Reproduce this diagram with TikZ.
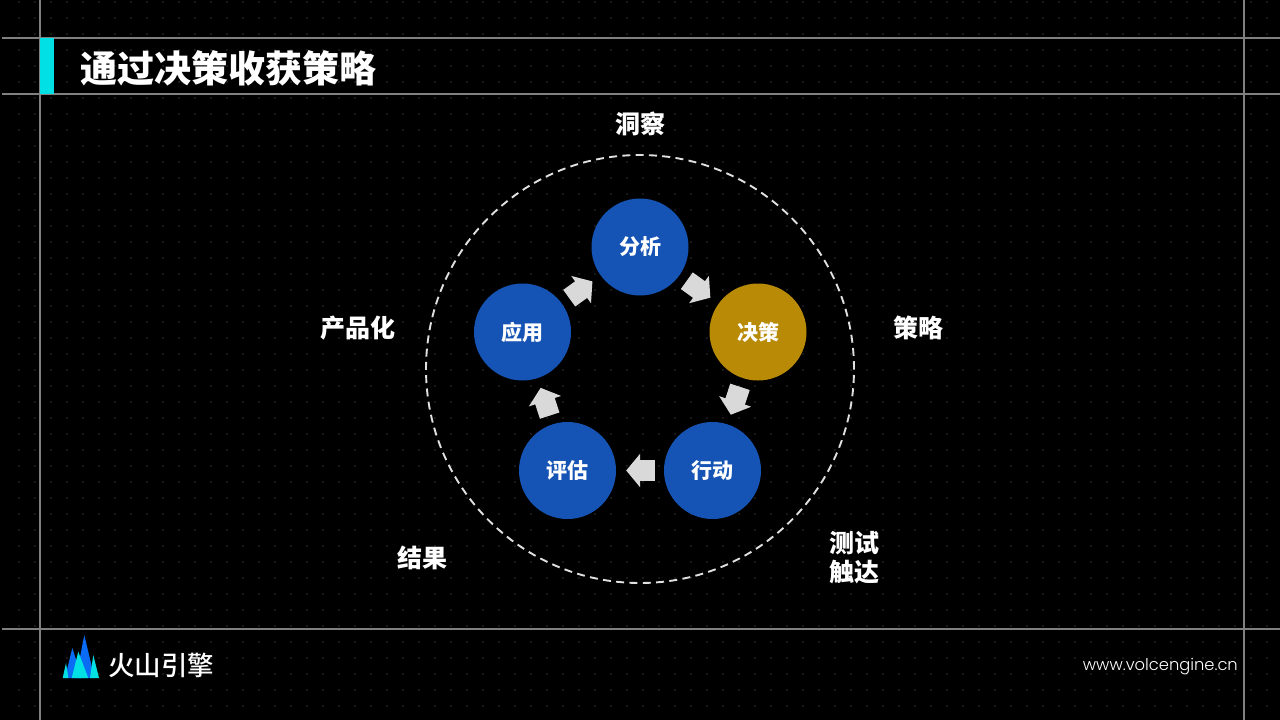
\documentclass[tikz,border=0pt]{standalone}
\usepackage{fontspec}
\setmainfont{Noto Sans CJK SC}
\newfontfamily\brandfont{Noto Sans CJK SC Medium}
\newfontfamily\urlfont{Poppins Light}
\usepackage{tikz}
\usetikzlibrary{arrows.meta}
\usepackage{xcolor}
\definecolor{stepblue}{HTML}{1554B4}
\definecolor{stepgold}{HTML}{B88A05}
\definecolor{accentcyan}{HTML}{00E0E5}
\definecolor{logoblue}{HTML}{0A6CF5}
\definecolor{griddot}{HTML}{333333}
\definecolor{gridline}{HTML}{808080}
\definecolor{flowgrey}{HTML}{D9D9D9}
\definecolor{ringgrey}{HTML}{E0E0E0}
\tikzset{
    stepnode/.style={circle, minimum size=97pt, inner sep=0pt, fill=stepblue, text=white, font=\fontsize{21}{24}\selectfont\bfseries},
    outerlabel/.style={text=white, align=center, inner sep=0pt, font=\fontsize{25}{29}\selectfont\bfseries},
    flowarrow/.style={draw=flowgrey, line width=20.5pt, -{Triangle[length=14pt,width=33pt,fill=flowgrey]}, shorten <=9pt, shorten >=10pt},
    frameline/.style={gridline, line width=1.2pt}
}

\begin{document}
\begin{tikzpicture}[x=1pt,y=-1pt]
    % Background
    \fill[black] (0,0) rectangle (1280,720);
    \useasboundingbox (0,0) rectangle (1280,720);
    \foreach \i in {0,...,78} {
        \foreach \j in {0,...,44} {
            \fill[griddot] ({19+16*\i},{2+16*\j}) circle[radius=0.8];
        }
    }

    % Frame lines
    \draw[frameline] (2,38) -- (1280,38);
    \draw[frameline] (2,94) -- (1280,94);
    \draw[frameline] (2,629) -- (1280,629);
    \draw[frameline] (40,0) -- (40,720);
    \draw[frameline] (1244,0) -- (1244,720);

    % Title
    \fill[accentcyan] (40,38) rectangle (54,94);
    \node[anchor=west, inner sep=0pt, text=white, font=\fontsize{37}{40}\selectfont\bfseries] (title) at (80,68) {通过决策收获策略};

    % Dashed ring
    \draw[ringgrey, line width=1.9pt, dash pattern=on 8pt off 5.31pt, dash phase=7.32pt] (640,369) circle[radius=214];

    % Steps
    \node[stepnode] (fenxi) at (640,247) {分析};
    \node[stepnode, fill=stepgold] (juece) at (758,332) {决策};
    \node[stepnode] (xingdong) at (712.5,470.5) {行动};
    \node[stepnode] (pinggu) at (567.5,470.5) {评估};
    \node[stepnode] (yingyong) at (522.5,332) {应用};

    \draw[flowarrow] (fenxi) -- (juece);
    \draw[flowarrow] (juece) -- (xingdong);
    \draw[flowarrow] (xingdong) -- (pinggu);
    \draw[flowarrow] (pinggu) -- (yingyong);
    \draw[flowarrow] (yingyong) -- (fenxi);

    % Outer labels
    \node[outerlabel] (insight) at (640,124) {洞察};
    \node[outerlabel] (strategy) at (918,328) {策略};
    \node[outerlabel] (test) at (854,557.5) {测试\\触达};
    \node[outerlabel] (result) at (422,558) {结果};
    \node[outerlabel] (product) at (357.5,328) {产品化};

    % Logo
    \fill[logoblue] (84.3,635) -- (94.5,678) -- (76,678) -- cycle;
    \fill[logoblue] (72.3,648) -- (82,678) -- (65,678) -- cycle;
    \fill[accentcyan] (93.3,655) -- (99,678) -- (90,678) -- cycle;
    \fill[accentcyan] (66,663) -- (68.5,678) -- (62.7,678) -- cycle;
    \fill[accentcyan] (78.3,651.7) -- (88.3,678) -- (71.7,678) -- cycle;
    \node[anchor=west, inner sep=0pt, text=white, font=\fontsize{26.5}{30}\brandfont] (brand) at (108,665.5) {火山引擎};

    % Footer
    \node[anchor=east, inner sep=0pt, text=white, font=\fontsize{16.3}{20}\urlfont] (site) at (1238,666.5) {www.volcengine.cn};
\end{tikzpicture}
\end{document}
